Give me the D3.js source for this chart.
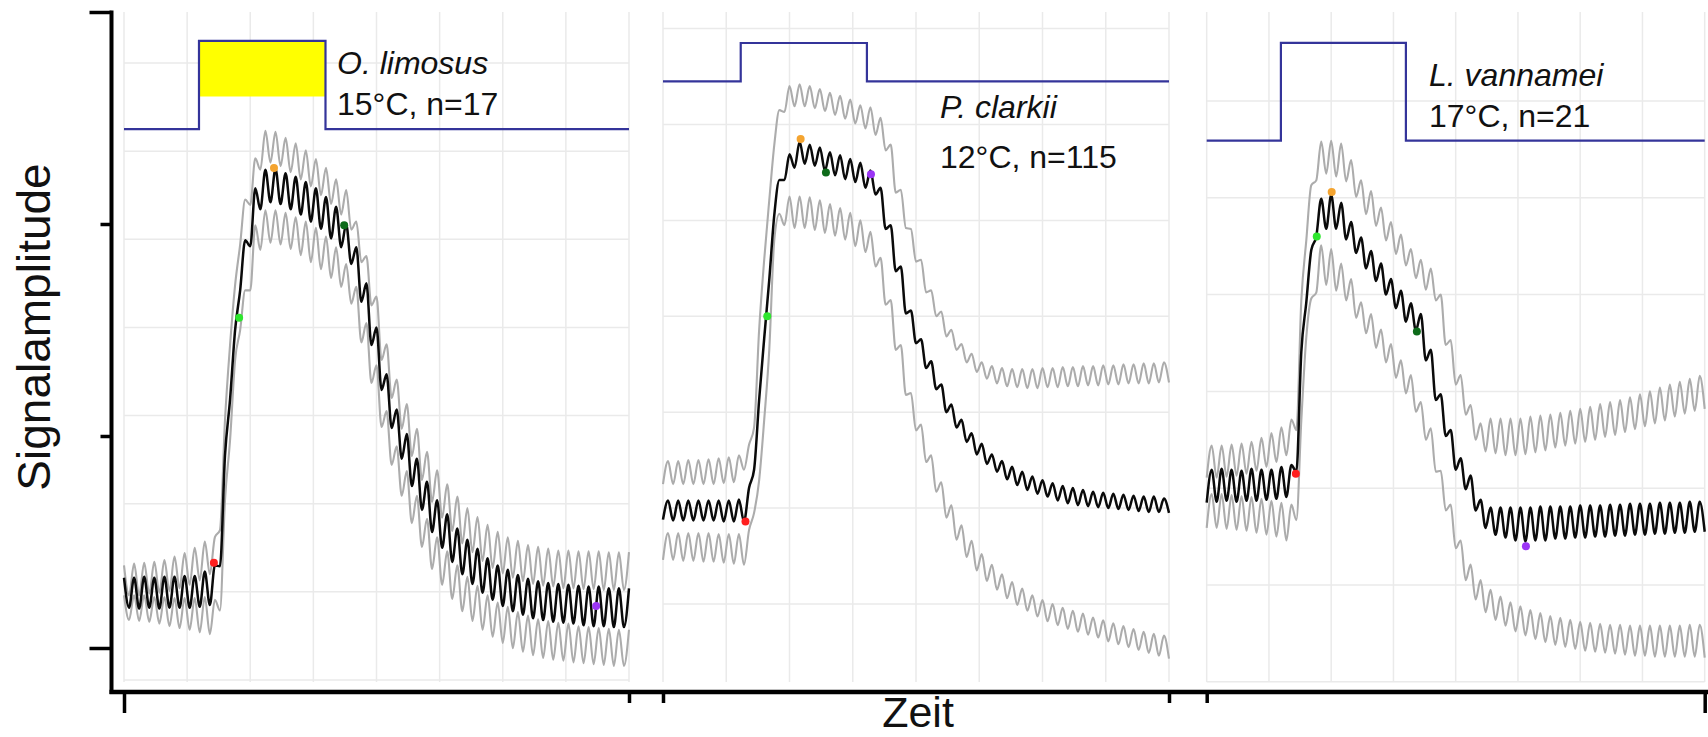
<!DOCTYPE html>
<html>
<head>
<meta charset="utf-8">
<script src="https://cdn.jsdelivr.net/npm/d3@7"></script>
<style>
  html, body { margin: 0; padding: 0; background: #fff; }
  svg { display: block; font-family: "Liberation Sans", Arial, sans-serif; }
</style>
</head>
<body>
<svg id="chart" width="1708" height="737"></svg>
<script>
/* ---- data (time = sample index 0..100, amplitude in arbitrary units per panel) ---- */
const species    = ["O. limosus", "P. clarkii", "L. vannamei"];
const conditions = ["15°C, n=17", "12°C, n=115", "17°C, n=21"];

const meanLimosus = [116,82,116,81,117,82,116,81,117,82,117,82,118,82,118,83,123,85,130,129,
  255,318,397,442,499,492,558,534,579,542,580,540,575,534,571,528,565,520,558,512,
  548,501,537,491,517,472,491,429,450,380,400,329,347,286,307,251,279,220,251,193,
  225,168,204,150,188,134,172,120,159,109,149,99,138,91,130,84,125,78,119,74,
  115,70,112,68,110,66,109,65,108,64,107,62,106,61,106,61,104,60,104,60,104];
const upperLimosus = [130,96,132,96,133,98,134,99,136,101,140,104,144,108,150,113,157,120,162,170,
  295,380,448,494,545,539,592,579,623,587,622,583,615,576,609,568,601,560,591,550,
  581,540,568,528,556,511,520,474,481,425,435,363,381,320,341,285,313,254,285,227,
  259,202,238,184,222,169,208,155,195,145,185,135,176,127,168,121,162,116,158,112,
  153,109,151,107,149,106,147,104,147,104,146,103,146,103,146,102,145,102,145,102,145];
const lowerLimosus = [96,68,96,67,96,66,94,64,94,61,93,59,93,57,93,54,94,52,91,79,
  204,272,363,397,442,442,516,488,533,496,533,494,530,489,525,482,520,474,513,466,
  503,456,491,446,472,427,446,383,405,337,357,287,305,244,265,209,237,178,209,151,
  183,126,162,108,146,92,130,78,117,67,107,57,96,49,88,42,83,36,77,32,
  73,28,69,25,67,23,65,22,64,20,61,19,60,18,59,17,58,16,57,16,57];

const meanClarkii = [88,108,87,108,87,108,87,108,87,108,87,108,86,108,86,109,86,121,140,213,
  277,338,406,442,442,469,455,482,459,479,457,476,452,471,447,468,443,464,440,460,
  434,452,427,434,391,395,347,352,303,306,272,276,246,253,224,229,200,208,184,192,
  169,178,156,167,146,156,138,149,130,143,124,138,119,133,115,129,112,126,108,123,
  105,121,103,119,102,117,101,116,100,115,99,114,98,113,97,112,96,112,96,110,95];
const upperClarkii = [125,149,125,149,125,150,125,150,125,151,125,152,126,153,127,155,140,166,184,286,
  359,421,479,515,513,540,519,542,519,540,517,537,514,533,510,530,506,526,501,520,
  496,518,489,507,473,479,429,432,392,391,357,359,325,327,300,305,279,286,265,271,
  252,261,242,252,235,248,230,246,227,245,226,245,225,245,225,246,226,246,226,247,
  227,247,227,248,228,248,228,249,229,249,229,250,230,250,230,251,230,251,231,252,231];
const lowerClarkii = [46,74,46,74,45,74,45,74,44,74,44,73,43,73,42,73,41,77,95,129,
  192,265,380,407,395,425,392,425,392,424,390,421,387,417,384,413,380,408,373,400,
  367,388,352,361,312,317,265,270,218,220,181,187,148,155,117,127,90,103,67,82,
  49,66,35,52,24,41,15,31,6,23,-1,16,-7,9,-13,4,-18,0,-22,-4,
  -26,-7,-29,-10,-32,-14,-35,-17,-39,-20,-42,-23,-45,-26,-48,-29,-51,-31,-54,-33,-57];

const meanVannamei = [85,119,86,120,87,119,86,118,87,120,87,119,88,119,89,122,91,124,117,241,
  292,346,360,399,368,403,368,395,357,375,343,359,327,345,314,332,300,316,286,304,
  272,291,263,280,232,243,191,197,154,160,119,131,99,113,77,88,59,80,52,80,
  49,80,46,80,45,80,46,81,46,81,48,81,48,81,49,82,49,82,50,82,
  50,83,51,83,51,84,52,84,52,84,53,85,53,85,54,85,54,86,55,86,55];
const upperVannamei = [111,144,111,144,112,145,113,146,115,148,118,152,122,157,127,163,134,171,160,294,
  356,413,418,458,425,459,422,456,417,439,401,418,383,407,371,390,356,375,342,362,
  330,347,317,336,305,327,294,300,248,253,207,217,176,186,150,167,138,172,136,172,
  134,172,134,172,135,174,137,175,139,176,142,178,144,180,146,182,148,184,150,187,
  153,189,155,191,158,194,161,197,164,200,167,204,170,207,174,210,177,213,180,216,182];
const lowerVannamei = [59,94,59,94,58,93,57,92,56,91,54,89,52,87,50,85,46,83,67,170,
  256,296,302,351,310,347,304,332,294,316,276,292,260,280,245,264,230,249,214,232,
  198,217,179,189,150,162,117,118,77,83,38,46,5,21,-15,5,-28,-5,-36,-12,
  -42,-18,-48,-22,-52,-26,-56,-29,-59,-32,-62,-34,-64,-36,-66,-38,-68,-39,-69,-40,
  -70,-41,-71,-41,-72,-42,-73,-42,-73,-42,-74,-42,-74,-42,-74,-42,-74,-41,-74,-41,-75];

// stimulus step: onset/offset time and low/high level per panel
const stimOn   = [14.85, 15.36, 14.9];
const stimOff  = [39.9, 40.3, 40.0];
const stimLow  = [625, 545, 459];
const stimHigh = [725, 585, 560];

// event markers [time, amplitude]: red, light green, orange, dark green, purple
const markerColors    = ["#ff1f1f", "#2ee62e", "#f4a430", "#0d6b1a", "#9b35f5"];
const markersLimosus  = [[17.8, 133], [22.8, 411], [29.7, 581], [43.6, 516], [93.5, 84]];
const markersClarkii  = [[16.3, 86], [20.6, 300], [27.2, 485], [32.2, 450], [41.1, 448]];
const markersVannamei = [[17.9, 115], [22.1, 360], [25.1, 406], [42.2, 262], [64.1, 40]];

// yellow box over the first stimulus [t0, t1, v0, v1]
const highlightLimosus = [15.05, 39.9, 662, 724];

// panel grid values (amplitude units)
const gridLimosus  = [0, 100, 200, 300, 400, 500, 600, 700];
const gridClarkii  = [0, 100, 200, 300, 400, 500, 600];
const gridVannamei = [-100, 0, 100, 200, 300, 400, 500];
const yAxisTicks = [0, 1, 2, 3];

/* ---- layout ---------------------------------------------------- */
const svg = d3.select("#chart");
const panelTop = 12, panelBottom = 682;
const axisX = 111.5, axisY = 692;

const panels = [
  { x: [124, 629],      y: [[0, 700], [680, 63]],  mean: meanLimosus,  upper: upperLimosus,  lower: lowerLimosus,
    markers: markersLimosus,  grid: gridLimosus,  label: [337, 74, 115] },
  { x: [663, 1169],     y: [[0, 600], [604, 28.6]], mean: meanClarkii,  upper: upperClarkii,  lower: lowerClarkii,
    markers: markersClarkii,  grid: gridClarkii,  label: [940, 118, 168] },
  { x: [1206.7, 1704.7], y: [[0, 500], [585, 101]], mean: meanVannamei, upper: upperVannamei, lower: lowerVannamei,
    markers: markersVannamei, grid: gridVannamei, label: [1429, 86, 127] }
];

panels.forEach((p, k) => {
  const x = d3.scaleLinear([0, p.mean.length - 1], p.x);
  const y = d3.scaleLinear(p.y[0], p.y[1]);
  const g = svg.append("g");

  /* grid */
  g.append("g").selectAll("line")
    .data(d3.range(0, 100.01, 12.5))
    .join("line")
      .attr("x1", d => x(d)).attr("x2", d => x(d))
      .attr("y1", panelTop).attr("y2", panelBottom)
      .attr("stroke", "#eaeaea").attr("stroke-width", 1.5);
  g.append("g").selectAll("line")
    .data(p.grid)
    .join("line")
      .attr("x1", p.x[0]).attr("x2", p.x[1])
      .attr("y1", d => y(d)).attr("y2", d => y(d))
      .attr("stroke", "#eaeaea").attr("stroke-width", 1.5);

  /* highlight box (first panel only) */
  if (k === 0) {
    const [t0, t1, v0, v1] = highlightLimosus;
    g.append("rect")
      .attr("x", x(t0)).attr("width", x(t1) - x(t0))
      .attr("y", y(v1)).attr("height", y(v0) - y(v1))
      .attr("fill", "#ffff00");
  }

  /* stimulus step */
  const stim = [[0, stimLow[k]], [stimOn[k], stimLow[k]], [stimOn[k], stimHigh[k]],
                [stimOff[k], stimHigh[k]], [stimOff[k], stimLow[k]], [100, stimLow[k]]];
  g.append("path")
    .datum(stim)
    .attr("fill", "none")
    .attr("stroke", "#34349a")
    .attr("stroke-width", 2.2)
    .attr("d", d3.line(d => x(d[0]), d => y(d[1])));

  /* traces */
  const line = d3.line((d, i) => x(i), d => y(d)).curve(d3.curveMonotoneX);
  [p.upper, p.lower].forEach(s =>
    g.append("path").datum(s)
      .attr("fill", "none").attr("stroke", "#acacac").attr("stroke-width", 2.1)
      .attr("d", line));
  g.append("path").datum(p.mean)
    .attr("fill", "none").attr("stroke", "#0a0a0a").attr("stroke-width", 2.5)
    .attr("d", line);

  /* markers */
  g.append("g").selectAll("circle")
    .data(p.markers)
    .join("circle")
      .attr("cx", d => x(d[0])).attr("cy", d => y(d[1]))
      .attr("r", 4)
      .attr("fill", (d, i) => markerColors[i]);

  /* labels */
  const [lx, ly1, ly2] = p.label;
  g.append("text").attr("x", lx).attr("y", ly1)
    .attr("font-size", 32).attr("font-style", "italic").attr("fill", "#111")
    .text(species[k]);
  g.append("text").attr("x", lx).attr("y", ly2)
    .attr("font-size", 32).attr("fill", "#111")
    .text(conditions[k]);

  /* x ticks at panel edges */
  const lastPanel = panels.length - 1;
  const xAxisG = svg.append("g")
    .attr("transform", `translate(0,${axisY})`)
    .call(d3.axisBottom(x).tickValues([0, p.mean.length - 1]).tickFormat("").tickSize(11).tickSizeOuter(0));
  xAxisG.select(".domain").remove();
  xAxisG.selectAll(".tick line")
    .attr("stroke", "#000").attr("stroke-width", 3.5)
    .attr("y2", d => (k === 0 && d === 0) || (k === lastPanel && d > 0) ? 21 : 11);
});

/* ---- decorative axes ------------------------------------------- */
const yAxisScale = d3.scaleLinear([0, 3], [648, 12]);
const yAxisG = svg.append("g")
  .attr("transform", `translate(${axisX},0)`)
  .call(d3.axisLeft(yAxisScale).tickValues(yAxisTicks).tickFormat("").tickSize(11).tickSizeOuter(0));
yAxisG.select(".domain").remove();
yAxisG.selectAll(".tick line")
  .attr("stroke", "#000").attr("stroke-width", 3.5)
  .attr("x2", d => (d === 0 || d === 3) ? -22 : -11);

svg.append("line")
  .attr("x1", axisX).attr("x2", axisX)
  .attr("y1", yAxisScale(3) - 1.5).attr("y2", axisY + 2)
  .attr("stroke", "#000").attr("stroke-width", 4);
svg.append("line")
  .attr("x1", axisX - 2).attr("x2", 1708)
  .attr("y1", axisY).attr("y2", axisY)
  .attr("stroke", "#000").attr("stroke-width", 4.5);

svg.append("text")
  .attr("transform", "translate(50,327) rotate(-90)")
  .attr("text-anchor", "middle")
  .attr("font-size", 46).attr("fill", "#111")
  .text("Signalamplitude");
svg.append("text")
  .attr("x", 918).attr("y", 727)
  .attr("text-anchor", "middle")
  .attr("font-size", 43).attr("fill", "#111")
  .text("Zeit");
</script>
</body>
</html>
